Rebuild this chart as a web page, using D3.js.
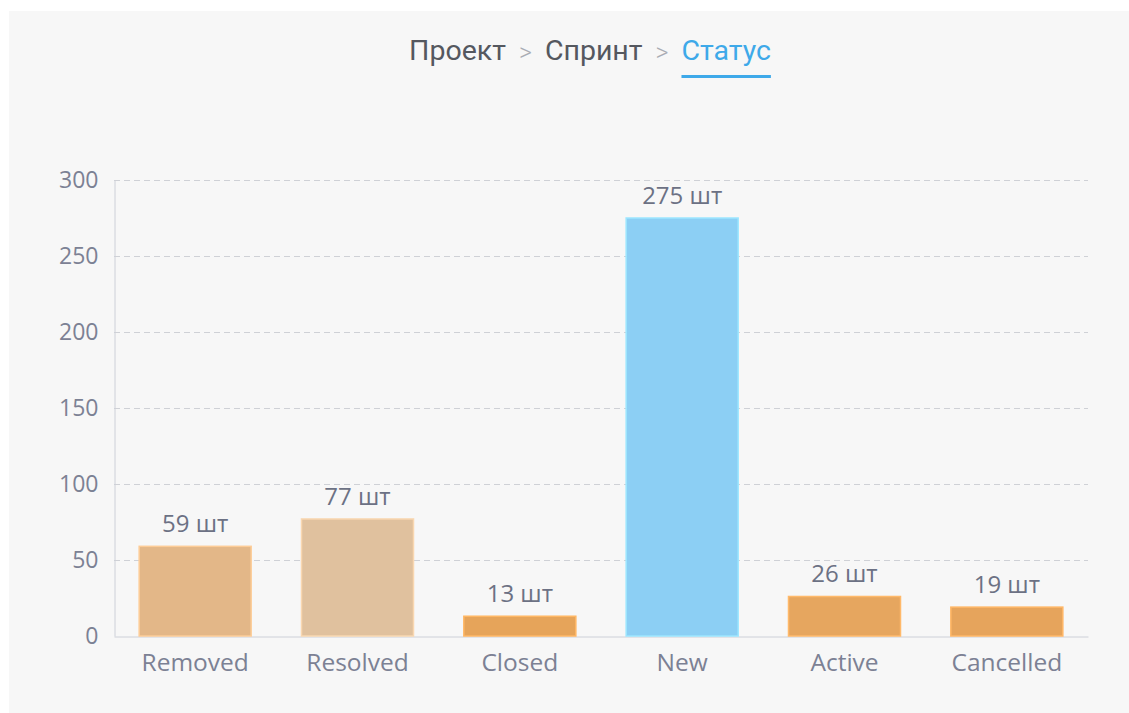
<!DOCTYPE html>
<html>
<head>
<meta charset="utf-8">
<script src="https://cdn.jsdelivr.net/npm/d3@7"></script>
<style>
  body { margin: 0; background: #fff; }
  .canvas { width: 1129px; height: 713px; }
</style>
</head>
<body>
<div class="canvas"></div>
<script>
// data
const categories = ['Removed', 'Resolved', 'Closed', 'New', 'Active', 'Cancelled'];
const counts = [59, 77, 13, 275, 26, 19];
const barColors = ['#e3b788', '#e0c19e', '#e6a45a', '#8ccff4', '#e6a65f', '#e6a45c'];
const yTicks = [0, 50, 100, 150, 200, 250, 300];
const crumbs = ['Проект', 'Спринт', 'Статус'];
const unit = 'шт';

const dims = { width: 1129, height: 713 };
const margin = { left: 114, right: 1088, top: 180, bottom: 636 };
const labelFont = '"Open Sans", sans-serif';

const svg = d3.select('.canvas')
    .append('svg')
    .attr('width', dims.width)
    .attr('height', dims.height);

// grey panel
svg.append('rect')
    .attr('x', 9).attr('y', 11)
    .attr('width', dims.width - 9).attr('height', dims.height - 11)
    .attr('fill', '#f7f7f7');

// breadcrumb title, laid out piece by piece and centred
const crumbG = svg.append('g');
let cx = 0;
let lastBox = null;
crumbs.forEach((c, i) => {
    const last = i === crumbs.length - 1;
    const t = crumbG.append('text')
        .attr('x', cx)
        .attr('y', 60)
        .attr('font-family', 'Roboto, sans-serif')
        .attr('font-size', 28.5)
        .attr('fill', last ? '#3ea9e9' : '#55585f')
        .text(c);
    const w = t.node().getComputedTextLength();
    if (last) lastBox = { x: cx, w: w };
    cx += w;
    if (!last) {
        cx += 13;
        const s = crumbG.append('text')
            .attr('x', cx)
            .attr('y', 61)
            .attr('font-family', 'Roboto, sans-serif')
            .attr('font-weight', 300)
            .attr('font-size', 25)
            .attr('fill', '#a9acb4')
            .text('>');
        cx += s.node().getComputedTextLength() + 13;
    }
});
const shift = 590 - cx / 2;
crumbG.attr('transform', `translate(${shift}, 0)`);

// underline below active crumb
svg.append('rect')
    .attr('x', shift + lastBox.x)
    .attr('y', 75)
    .attr('width', lastBox.w)
    .attr('height', 3)
    .attr('fill', '#3ea9e9');

// scales
const x = d3.scaleBand()
    .domain(categories)
    .range([margin.left, margin.right])
    .paddingInner(0.31)
    .paddingOuter(0.155);

const y = d3.scaleLinear()
    .domain([0, 300])
    .range([margin.bottom, margin.top]);

// grid lines
svg.append('g')
    .selectAll('line')
    .data(yTicks.filter(t => t > 0))
    .join('line')
        .attr('x1', margin.left)
        .attr('x2', margin.right)
        .attr('y1', d => y(d) + 0.5)
        .attr('y2', d => y(d) + 0.5)
        .attr('stroke', '#cfd1d6')
        .attr('stroke-dasharray', '6 4');

// y axis
const yAxis = d3.axisLeft(y).tickValues(yTicks).tickSize(0).tickPadding(16);
const yG = svg.append('g')
    .attr('transform', `translate(${margin.left + 0.5}, 0)`)
    .call(yAxis);
yG.select('.domain').attr('stroke', '#cdd0d8');
yG.selectAll('text')
    .attr('fill', '#7c8194')
    .attr('font-family', labelFont)
    .attr('font-size', 23);

// x axis
const xAxis = d3.axisBottom(x).tickSize(0).tickPadding(17);
const xG = svg.append('g')
    .attr('transform', `translate(0, ${margin.bottom + 0.5})`)
    .call(xAxis);
xG.select('.domain').attr('stroke', '#cdd0d8');
xG.selectAll('text')
    .attr('fill', '#7c8194')
    .attr('font-family', labelFont)
    .attr('font-size', 24.5);

// bars
const data = categories.map((c, i) => ({ name: c, value: counts[i], color: barColors[i] }));

svg.append('g')
    .selectAll('rect')
    .data(data)
    .join('rect')
        .attr('x', d => x(d.name))
        .attr('y', d => y(d.value))
        .attr('width', x.bandwidth())
        .attr('height', d => y(0) - y(d.value))
        .attr('fill', d => d.color)
        .attr('stroke', d => d3.color(d.color).brighter(0.3))
        .attr('stroke-width', 1.5);

// value labels
svg.append('g')
    .selectAll('text')
    .data(data)
    .join('text')
        .attr('x', d => x(d.name) + x.bandwidth() / 2)
        .attr('y', d => y(d.value) - 14)
        .attr('text-anchor', 'middle')
        .attr('fill', '#6c7184')
        .attr('font-family', labelFont)
        .attr('font-size', 24)
        .text(d => `${d.value} ${unit}`);
</script>
</body>
</html>
